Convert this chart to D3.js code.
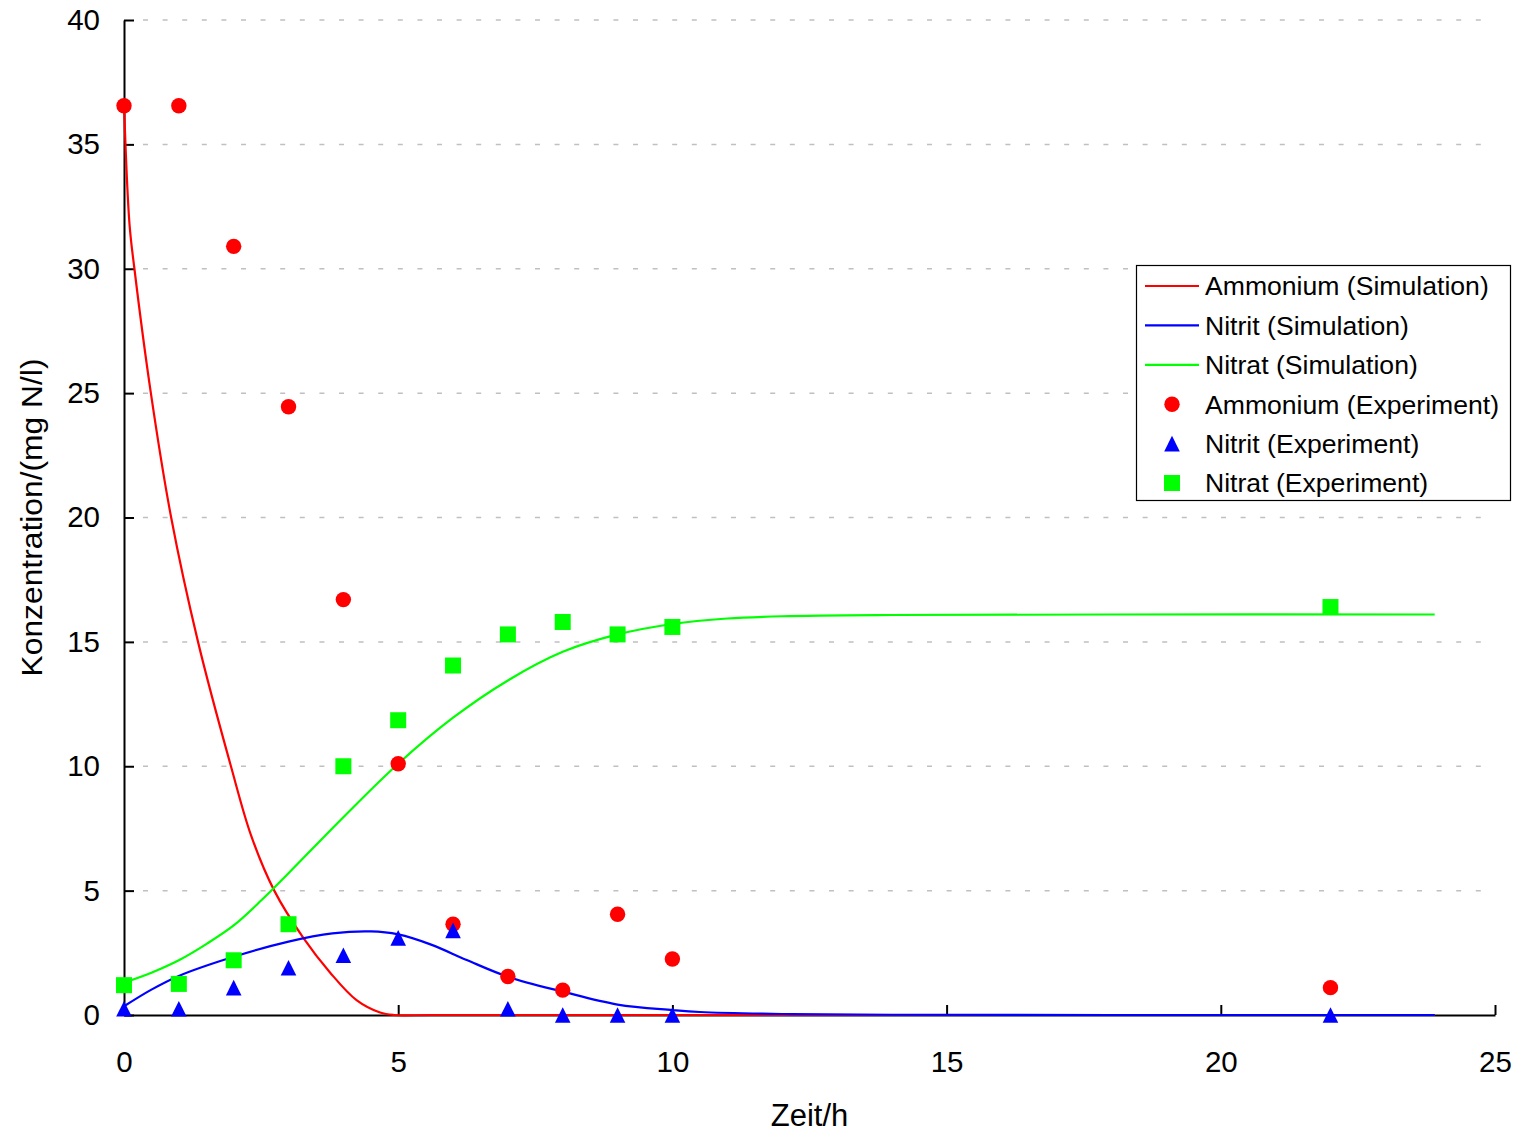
<!DOCTYPE html>
<html>
<head>
<meta charset="utf-8">
<script src="https://cdn.jsdelivr.net/npm/d3@7"></script>
<style>
  body { margin: 0; background: #fff; }
  svg { display: block; font-family: Arial, "Liberation Sans", sans-serif; }
</style>
</head>
<body>
<div id="chart"></div>
<script>
/** Page size. */
const WIDTH = 1519;
const HEIGHT = 1132;

/** Plot area in pixels. */
const LEFT = 124, RIGHT = 1495, TOP = 20, BOTTOM = 1015;

// Measured points (hours)
const expTime = [0, 1, 2, 3, 4, 5, 6, 7, 8, 9, 10, 22];
const ammoniumExp = [36.55, 36.55, 30.9, 24.45, 16.7, 10.1, 3.65, 1.55, 1.0, 4.05, 2.25, 1.1];
const nitritExp = [0.25, 0.25, 1.1, 1.9, 2.4, 3.1, 3.4, 0.25, 0.0, 0.0, 0.0, 0.0];
const nitratExp = [1.2, 1.25, 2.2, 3.65, 10.0, 11.85, 14.05, 15.3, 15.8, 15.3, 15.6, 16.4];

// Simulation curves
const ammoniumSimTime = [0, 0.1, 0.19, 0.49, 0.86, 1.35, 1.95, 2.32, 2.74, 3.27, 3.76, 4.24, 4.67, 4.92, 5.6, 12, 23.9];
const ammoniumSim = [36.6, 31.8, 30.0, 25.0, 20.0, 15.0, 10.0, 7.2, 5.0, 3.1, 1.7, 0.6, 0.1, 0.0, 0.0, 0.0, 0.0];

const nitritSimTime = [0, 0.5, 1, 2, 3, 3.8, 4.5, 5, 5.6, 6.25, 7, 8, 9, 10, 10.5, 12, 14, 18, 23.9];
const nitritSim = [0.35, 1.02, 1.57, 2.34, 2.95, 3.28, 3.36, 3.24, 2.83, 2.21, 1.54, 0.94, 0.42, 0.2, 0.12, 0.04, 0.01, 0.0, 0.0];

const nitratSimTime = [0, 0.5, 1, 1.5, 2, 2.5, 3, 4, 5, 6, 7, 8, 9, 10, 11, 12, 14, 18, 23.9];
const nitratSim = [1.3, 1.7, 2.2, 2.85, 3.6, 4.6, 5.7, 7.95, 10.1, 11.95, 13.45, 14.6, 15.3, 15.72, 15.94, 16.03, 16.08, 16.1, 16.1];

const xTicks = [0, 5, 10, 15, 20, 25];
const yTicks = [0, 5, 10, 15, 20, 25, 30, 35, 40];

const legendLabels = [
    "Ammonium (Simulation)", "Nitrit (Simulation)", "Nitrat (Simulation)",
    "Ammonium (Experiment)", "Nitrit (Experiment)", "Nitrat (Experiment)"
];

const RED = "#ff0000", BLUE = "#0000ff", GREEN = "#00ff00";

const x = d3.scaleLinear().domain([0, 25]).range([LEFT, RIGHT]);
const y = d3.scaleLinear().domain([0, 40]).range([BOTTOM, TOP]);

let svg = d3.select("#chart").append("svg")
    .attr("width", WIDTH)
    .attr("height", HEIGHT);

// Dashed gridlines
svg.append("g")
    .selectAll("line")
    .data(yTicks.filter(d => d > 0))
    .enter()
    .append("line")
    .attr("x1", LEFT + 19)
    .attr("x2", RIGHT)
    .attr("y1", d => y(d))
    .attr("y2", d => y(d))
    .attr("stroke", "#c0c0c0")
    .attr("stroke-width", 1.5)
    .attr("stroke-dasharray", "5,14.6");

// Axes with inward ticks
const xAxis = svg.append("g")
    .attr("transform", `translate(0,${BOTTOM})`)
    .call(d3.axisBottom(x).tickValues(xTicks).tickSizeInner(-10).tickSizeOuter(0).tickPadding(36));
const yAxis = svg.append("g")
    .attr("transform", `translate(${LEFT},0)`)
    .call(d3.axisLeft(y).tickValues(yTicks).tickSizeInner(-10).tickSizeOuter(0).tickPadding(24));

[xAxis, yAxis].forEach(g => {
    g.select(".domain").attr("stroke", "#000").attr("stroke-width", 2);
    g.selectAll(".tick line").attr("stroke", "#000").attr("stroke-width", 2);
    g.selectAll(".tick text")
        .attr("fill", "#000")
        .style("font-size", "29.5px")
        .style("font-family", "Arial, 'Liberation Sans', sans-serif");
});

// Axis titles
svg.append("text")
    .attr("x", (LEFT + RIGHT) / 2)
    .attr("y", 1126)
    .attr("text-anchor", "middle")
    .style("font-size", "31px")
    .text("Zeit/h");

svg.append("text")
    .attr("transform", `translate(32,${(TOP + BOTTOM) / 2}) rotate(-90)`)
    .attr("text-anchor", "middle")
    .attr("dy", "0.35em")
    .attr("textLength", 318)
    .attr("lengthAdjust", "spacingAndGlyphs")
    .style("font-size", "29px")
    .text("Konzentration/(mg N/l)");

// Simulation lines
const line = d3.line()
    .x(d => x(d[0]))
    .y(d => y(d[1]))
    .curve(d3.curveCatmullRom.alpha(0.5));

const simSeries = [
    { t: ammoniumSimTime, v: ammoniumSim, color: RED },
    { t: nitritSimTime, v: nitritSim, color: BLUE },
    { t: nitratSimTime, v: nitratSim, color: GREEN }
];

simSeries.forEach(s => {
    svg.append("path")
        .datum(s.t.map((t, i) => [t, s.v[i]]))
        .attr("d", line)
        .attr("fill", "none")
        .attr("stroke", s.color)
        .attr("stroke-width", 2.2);
});

// Marker shapes
const triangle = "M0,-7.8L7.8,7.8L-7.8,7.8Z";

const expPts = (vals) => expTime.map((t, i) => [t, vals[i]]);

svg.append("g")
    .selectAll("circle")
    .data(expPts(ammoniumExp))
    .enter()
    .append("circle")
    .attr("cx", d => x(d[0]))
    .attr("cy", d => y(d[1]))
    .attr("r", 7.7)
    .attr("fill", RED);

svg.append("g")
    .selectAll("path")
    .data(expPts(nitritExp))
    .enter()
    .append("path")
    .attr("d", triangle)
    .attr("transform", d => `translate(${x(d[0])},${y(d[1])})`)
    .attr("fill", BLUE);

svg.append("g")
    .selectAll("rect")
    .data(expPts(nitratExp))
    .enter()
    .append("rect")
    .attr("x", d => x(d[0]) - 8)
    .attr("y", d => y(d[1]) - 8)
    .attr("width", 16)
    .attr("height", 16)
    .attr("fill", GREEN);

// Legend
const legend = svg.append("g");
legend.append("rect")
    .attr("x", 1136.5)
    .attr("y", 265.5)
    .attr("width", 374)
    .attr("height", 235)
    .attr("fill", "#fff")
    .attr("stroke", "#000")
    .attr("stroke-width", 1.2);

const rowY = (i) => 286 + i * 39.4;
const legendColors = [RED, BLUE, GREEN, RED, BLUE, GREEN];

legendLabels.forEach((label, i) => {
    const cy = rowY(i);
    if (i < 3) {
        legend.append("line")
            .attr("x1", 1145).attr("x2", 1199)
            .attr("y1", cy).attr("y2", cy)
            .attr("stroke", legendColors[i])
            .attr("stroke-width", 2.2);
    } else if (i === 3) {
        legend.append("circle").attr("cx", 1172).attr("cy", cy).attr("r", 7.7).attr("fill", RED);
    } else if (i === 4) {
        legend.append("path").attr("d", triangle)
            .attr("transform", `translate(1172,${cy})`).attr("fill", BLUE);
    } else {
        legend.append("rect").attr("x", 1164).attr("y", cy - 8)
            .attr("width", 16).attr("height", 16).attr("fill", GREEN);
    }
    legend.append("text")
        .attr("x", 1205)
        .attr("y", cy)
        .attr("dy", "0.35em")
        .style("font-size", "26.6px")
        .text(label);
});
</script>
</body>
</html>
